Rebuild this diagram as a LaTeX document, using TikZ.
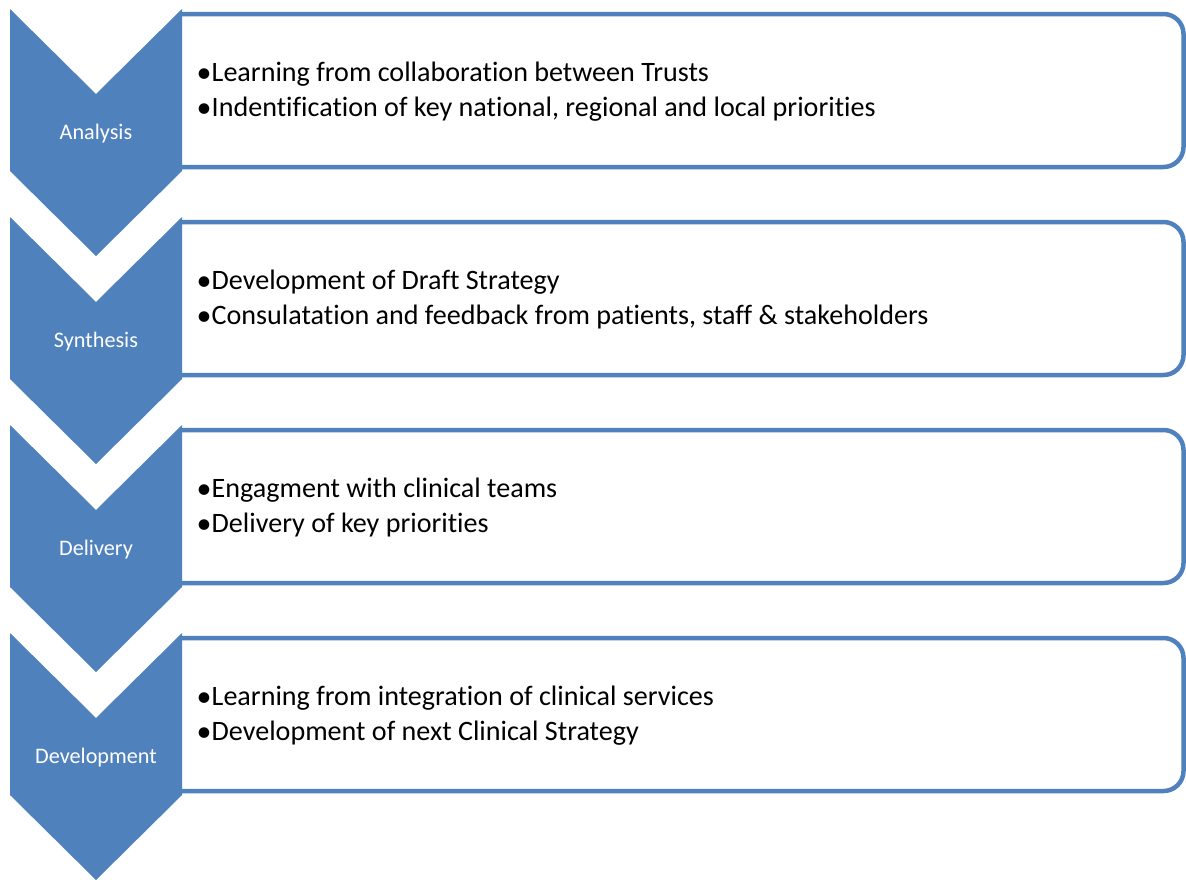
\documentclass[tikz,border=0pt]{standalone}
\usepackage{fontspec}
\setmainfont[Ligatures=NoCommon,RawFeature={-liga}]{Carlito}
\definecolor{stageblue}{HTML}{4F81BD}
% larger bullet, centred on the x-height, in a box of its own width
\newcommand{\itembullet}{\makebox[15pt][c]{\raisebox{-1.2pt}{\fontsize{30}{30}\selectfont •}}}
\begin{document}
\begin{tikzpicture}[x=1pt,y=-1pt,
  chevron/.style={fill=stageblue},
  stagebox/.style={draw=stageblue,line width=4.5pt,rounded corners=20pt},
  stagelabel/.style={text=white,font=\fontsize{22.2}{26}\selectfont,inner sep=0pt,anchor=base},
  itemline/.style={text=black,font=\fontsize{28.1}{33}\selectfont,inner sep=0pt,anchor=base west}]
\useasboundingbox (0,0) rectangle (1186,879);
\fill[white] (0,0) rectangle (1186,879);
% one row per stage: index / label / first bullet / second bullet
\foreach \k/\lab/\ta/\tb in {
  0/Analysis/Learning from collaboration between Trusts/Indentification of key national{,} regional and local priorities,
  1/Synthesis/Development of Draft Strategy/Consulatation and feedback from patients{,} staff \& stakeholders,
  2/Delivery/Engagment with clinical teams/Delivery of key priorities,
  3/Development/Learning from integration of clinical services/Development of next Clinical Strategy}
{
  \pgfmathsetmacro{\oy}{208*\k}
  \begin{scope}[yshift={-\oy pt}]
    % text box, open on the left where the chevron covers it
    \draw[stagebox] (180,14) -- (1183.5,14) -- (1183.5,167) -- (180,167);
    % downward chevron
    \fill[chevron] (10,9) -- (96,94) -- (182,9) -- (182,171) -- (96,256) -- (10,171) -- cycle;
    \node[stagelabel] (label\k) at (96,139) {\lab};
    \node[itemline] (itemA\k) at (196.5,81.7) {\itembullet\ta};
    \node[itemline] (itemB\k) at (196.5,116.7) {\itembullet\tb};
  \end{scope}
}
\end{tikzpicture}
\end{document}
